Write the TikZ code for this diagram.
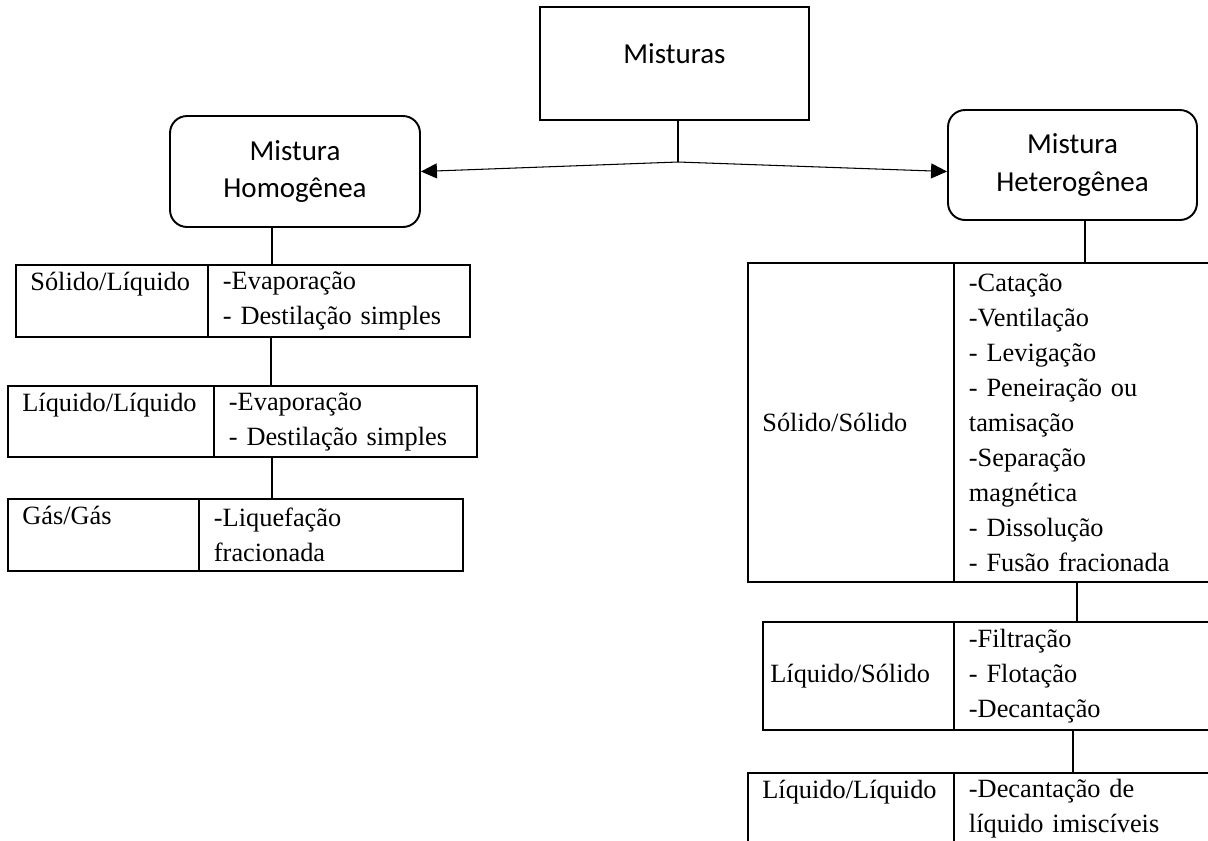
\documentclass[tikz,border=0pt]{standalone}
\usepackage{fontspec}
\setmainfont{Liberation Serif}
\newfontfamily\calibri{Carlito}
\usetikzlibrary{arrows.meta}

\tikzset{
    caixa/.style={draw, line width=1.1pt, rounded corners=0.34cm, align=center, font=\calibri\fontsize{16.5}{21.6}\selectfont},
    celula/.style={draw, line width=1.1pt, anchor=north west, inner xsep=0.3cm, inner ysep=0pt, align=left, font=\fontsize{15}{19.9}\selectfont},
    rotulo/.style={inner sep=0pt, font=\fontsize{15}{19.9}\selectfont},
    seta/.style={-{Triangle[length=0.32cm,width=0.3cm]}, line width=0.6pt},
    ligacao/.style={line width=0.6pt}
}

\begin{document}
\begin{tikzpicture}[x=0.02cm, y=-0.02cm]
            \useasboundingbox (0,0) rectangle (1208,840);
            \clip (0,0) rectangle (1208,840);

            \node[caixa, sharp corners, minimum width=5.38cm, minimum height=2.26cm, text height=12pt, text depth=12pt] (misturas) at (674.5,63.5) {Misturas};
            \node[caixa, minimum width=5cm, minimum height=2.22cm] (homog) at (295,171.5) {Mistura\\Homogênea};
            \node[caixa, minimum width=4.98cm, minimum height=2.2cm] (heterog) at (1072.5,165) {Mistura\\Heterogênea};

            \coordinate (jn) at (678,162);
            \draw[ligacao] (misturas.south -| jn) -- (jn);
            \draw[seta] (jn) -- (homog.east);
            \draw[seta] (jn) -- (heterog.west |- homog.east);

            % homogenea
            \node[celula, minimum width=3.84cm, minimum height=1.44cm] (t1e) at (15,264) {};
            \node[celula, text width=4.64cm, minimum height=1.44cm] (t1d) at (207,264) {-Evaporação\\- Destilação simples};
            \node[rotulo, anchor=base west] (r1) at ([shift={(15,26)}]t1e.north west) {Sólido/Líquido};

            \node[celula, minimum width=4.12cm, minimum height=1.42cm] (t2e) at (7,385) {};
            \node[celula, text width=4.66cm, minimum height=1.42cm] (t2d) at (213,385) {-Evaporação\\- Destilação simples};
            \node[rotulo, anchor=base west] (r2) at ([shift={(15,26)}]t2e.north west) {Líquido/Líquido};

            \node[celula, minimum width=3.82cm, minimum height=1.44cm] (t3e) at (7,498) {};
            \node[celula, text width=4.68cm, minimum height=1.44cm] (t3d) at (198,498) {-Liquefação\\fracionada};
            \node[rotulo, anchor=base west] (r3) at ([shift={(15,26)}]t3e.north west) {Gás/Gás};

            % heterogenea
            \node[celula, minimum width=4.12cm, minimum height=6.38cm] (t4e) at (747,262) {};
            \node[celula, text width=5.4cm, minimum height=6.38cm] (t4d) at (953,262) {-Catação\\-Ventilação\\- Levigação\\- Peneiração ou\\tamisação\\-Separação\\magnética\\- Dissolução\\- Fusão fracionada};
            \node[rotulo, anchor=west] (r4) at ([shift={(15,0)}]t4e.west) {Sólido/Sólido};

            \node[celula, minimum width=3.82cm, minimum height=2.16cm] (t5e) at (762,621) {};
            \node[celula, text width=5.4cm, minimum height=2.16cm] (t5d) at (953,621) {-Filtração\\- Flotação\\-Decantação};
            \node[rotulo, anchor=west] (r5) at ([shift={(8,0)}]t5e.west) {Líquido/Sólido};

            \node[celula, minimum width=4.12cm, minimum height=1.42cm] (t6e) at (747,772) {};
            \node[celula, text width=5.4cm, minimum height=1.42cm] (t6d) at (953,772) {-Decantação de\\líquido imiscíveis};
            \node[rotulo, anchor=base west] (r6) at ([shift={(15,26)}]t6e.north west) {Líquido/Líquido};

            \foreach \a/\b/\x in {homog/t1d/272, t1d/t2d/271, t2d/t3d/272, heterog/t4d/1085, t4d/t5d/1077, t5d/t6d/1073}
            {
                \coordinate (cx) at (\x,0);
                \draw[ligacao] (\a.south -| cx) -- (\b.north -| cx);
            }
\end{tikzpicture}
\end{document}
